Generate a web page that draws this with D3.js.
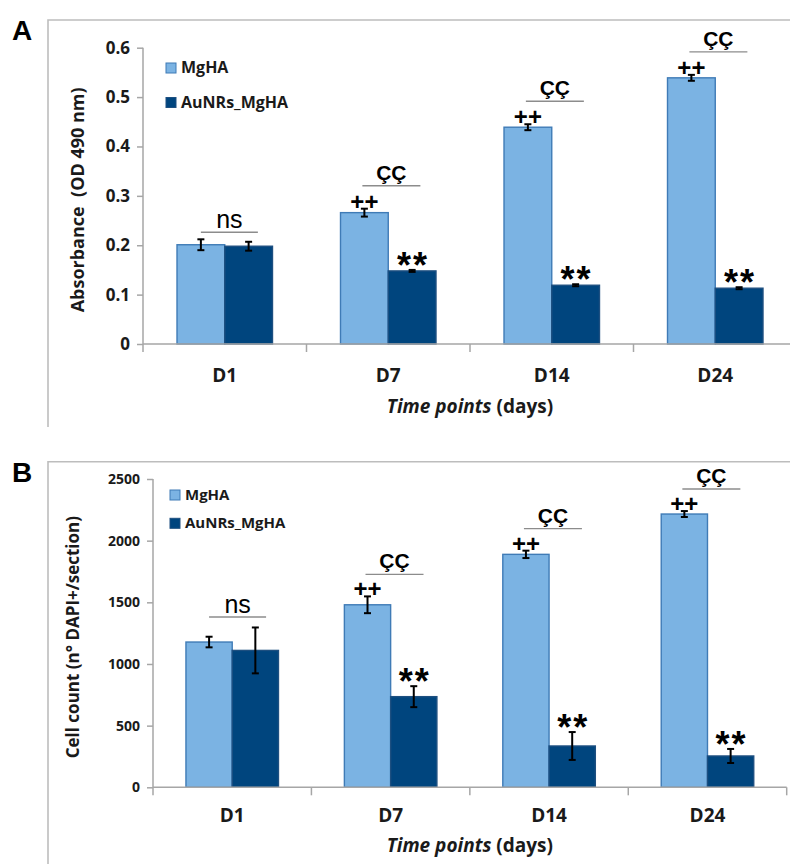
<!DOCTYPE html>
<html>
<head>
<meta charset="utf-8">
<script src="https://cdnjs.cloudflare.com/ajax/libs/d3/7.8.5/d3.min.js"></script>
<style>
  body { margin: 0; background: #fff; }
  svg { display: block; }
  text { font-family: "Open Sans", "Liberation Sans", sans-serif; fill: #1a1a1a; white-space: pre; }
</style>
</head>
<body>
<div id="plot-container"></div>
<script>
// chart values
var categories = ['D1', 'D7', 'D14', 'D24'];
var series = ['MgHA', 'AuNRs_MgHA'];

var absMgHA = [0.201, 0.266, 0.439, 0.539];
var absMgHAErr = [0.011, 0.008, 0.006, 0.006];
var absAu = [0.198, 0.148, 0.119, 0.113];
var absAuErr = [0.009, 0.002, 0.002, 0.002];
var absTicks = [0, 0.1, 0.2, 0.3, 0.4, 0.5, 0.6];
var absTickLabels = ['0', '0.1', '0.2', '0.3', '0.4', '0.5', '0.6'];

var cellMgHA = [1178, 1480, 1889, 2216];
var cellMgHAErr = [43, 68, 30, 24];
var cellAu = [1110, 735, 335, 254];
var cellAuErr = [186, 85, 113, 57];
var cellTicks = [0, 500, 1000, 1500, 2000, 2500];
var cellTickLabels = ['0', '500', '1000', '1500', '2000', '2500'];

// significance marks per time point
var groupMarks = ['ns', 'ÇÇ', 'ÇÇ', 'ÇÇ'];
var plusMarks = ['', '++', '++', '++'];
var starMarks = ['', '**', '**', '**'];

var colors = ['#7bb3e3', '#00457e'];
var strokes = ['#3f7bb6', '#1d4f80'];

var svg = d3.select("#plot-container")
            .append("svg")
            .attr("width", 790)
            .attr("height", 864);

// panel settings (layout only)
var panelA = {
  letter: 'A', letterY: 40, frameTop: 20, frameBottom: 427,
  left: 143, right: 797, top: 47.7, bottom: 344,
  max: 0.6, ticks: absTicks, tickLabels: absTickLabels, tickFont: 17,
  mg: absMgHA, mgErr: absMgHAErr, au: absAu, auErr: absAuErr,
  yTitle: 'Absorbance  (OD 490 nm)', yTitleX: 77, yTitleFont: 18,
  catY: 38, titleY: 69, legendY: 63, legendX: 166, legendFont: 16, legendGap: 34.5,
  lineGap: 23, nsGap: 7
};
var panelB = {
  letter: 'B', letterY: 482, frameTop: 461.7, frameBottom: 900,
  left: 153, right: 786.7, top: 479, bottom: 787.3,
  max: 2500, ticks: cellTicks, tickLabels: cellTickLabels, tickFont: 14,
  mg: cellMgHA, mgErr: cellMgHAErr, au: cellAu, auErr: cellAuErr,
  yTitle: 'Cell count (n° DAPI+/section)', yTitleX: 72, yTitleFont: 17,
  catY: 34.5, titleY: 64.5, legendY: 490, legendX: 170, legendFont: 15, legendGap: 28.3,
  lineGap: 22, nsGap: 10.5
};

drawPanel(panelA);
drawPanel(panelB);

function drawPanel(p) {
  var g = svg.append("g");

  // frame
  g.append("path")
   .attr("d", "M820," + p.frameTop + "H48V" + p.frameBottom)
   .attr("fill", "none")
   .attr("stroke", "#bdbdbd")
   .attr("stroke-width", 1.6);

  g.append("text")
   .attr("x", 12).attr("y", p.letterY)
   .style("font-family", "Liberation Sans, Arial, sans-serif")
   .style("font-weight", "bold").style("font-size", "28px")
   .style("fill", "#000")
   .text(p.letter);

  var x0 = d3.scaleBand().domain(categories).range([p.left, p.right]);
  var bw = x0.bandwidth();
  var x1 = d3.scaleBand().domain(series).range([bw * 0.208, bw * 0.792]);
  var y = d3.scaleLinear().domain([0, p.max]).range([p.bottom, p.top]);

  // y axis
  var yAxis = g.append("g")
               .attr("transform", "translate(" + p.left + ",0)")
               .call(d3.axisLeft(y).tickValues(p.ticks).tickSize(6).tickPadding(7)
                       .tickFormat(function(d, i){ return p.tickLabels[i]; }));
  yAxis.select(".domain").attr("stroke", "#a6a6a6").attr("stroke-width", 1.5)
       .attr("d", "M0," + p.top + "V" + p.bottom);
  yAxis.selectAll(".tick line").attr("stroke", "#a6a6a6").attr("stroke-width", 1.5);
  yAxis.selectAll(".tick text")
       .style("font-size", p.tickFont + "px").style("font-weight", "bold")
       .style("font-family", "Open Sans, sans-serif").attr("fill", "#1a1a1a");

  // bars
  var rows = categories.map(function(c, i){
    return [
      { cat: c, s: series[0], v: p.mg[i], e: p.mgErr[i], k: 0 },
      { cat: c, s: series[1], v: p.au[i], e: p.auErr[i], k: 1 }
    ];
  });
  var flat = [].concat.apply([], rows);

  g.selectAll("rect.bar")
   .data(flat)
   .enter()
   .append("rect")
   .attr("class", "bar")
   .attr("x", function(d){ return x0(d.cat) + x1(d.s); })
   .attr("y", function(d){ return y(d.v); })
   .attr("width", x1.bandwidth())
   .attr("height", function(d){ return y(0) - y(d.v); })
   .attr("fill", function(d){ return colors[d.k]; })
   .attr("stroke", function(d){ return strokes[d.k]; })
   .attr("stroke-width", 1.4);

  // x axis
  var xAxis = g.append("g")
               .attr("transform", "translate(0," + p.bottom + ")")
               .call(d3.axisBottom(x0).tickSize(0));
  xAxis.select(".domain").attr("stroke", "#a6a6a6").attr("stroke-width", 1.5)
       .attr("d", "M" + p.left + ",0H" + p.right);
  xAxis.selectAll(".tick text")
       .attr("y", p.catY).attr("dy", 0)
       .style("font-size", "19px").style("font-weight", "bold")
       .style("font-family", "Open Sans, sans-serif").attr("fill", "#1a1a1a");
  var bounds = categories.map(function(c){ return x0(c); }).concat([x0.range()[1]]);
  xAxis.selectAll("line.bound")
       .data(bounds)
       .enter()
       .append("line")
       .attr("class", "bound")
       .attr("x1", function(d){ return d; }).attr("x2", function(d){ return d; })
       .attr("y1", 0).attr("y2", 8)
       .attr("stroke", "#a6a6a6").attr("stroke-width", 1.5);

  // error bars
  var eb = g.selectAll("g.err")
            .data(flat)
            .enter()
            .append("g")
            .attr("class", "err")
            .attr("stroke", "#000")
            .attr("stroke-width", 2);
  eb.append("line")
    .attr("x1", function(d){ return x0(d.cat) + x1(d.s) + x1.bandwidth() / 2; })
    .attr("x2", function(d){ return x0(d.cat) + x1(d.s) + x1.bandwidth() / 2; })
    .attr("y1", function(d){ return y(d.v + d.e); })
    .attr("y2", function(d){ return y(d.v - d.e); });
  eb.selectAll("line.cap")
    .data(function(d){ return [d.v + d.e, d.v - d.e].map(function(v){ return { d: d, v: v }; }); })
    .enter()
    .append("line")
    .attr("class", "cap")
    .attr("x1", function(o){ return x0(o.d.cat) + x1(o.d.s) + x1.bandwidth() / 2 - 3.5; })
    .attr("x2", function(o){ return x0(o.d.cat) + x1(o.d.s) + x1.bandwidth() / 2 + 3.5; })
    .attr("y1", function(o){ return y(o.v); })
    .attr("y2", function(o){ return y(o.v); });

  // significance marks
  rows.forEach(function(r, i){
    var mg = r[0], au = r[1];
    var cMg = x0(mg.cat) + x1(mg.s) + x1.bandwidth() / 2;
    var cAu = x0(au.cat) + x1(au.s) + x1.bandwidth() / 2;
    var topMg = y(mg.v + mg.e);
    var topAu = y(au.v + au.e);
    var lineY, x1l, x2l;
    if (groupMarks[i] === 'ns') {
      lineY = Math.min(topMg, topAu) - p.nsGap;
      x1l = cMg; x2l = cMg + 57;
      g.append("text")
       .attr("x", (x1l + x2l) / 2).attr("y", lineY - 4)
       .attr("text-anchor", "middle")
       .style("font-family", "Liberation Sans, Arial, sans-serif")
       .style("font-size", "25px").style("fill", "#000")
       .text(groupMarks[i]);
    } else {
      lineY = topMg - p.lineGap;
      x1l = cMg - 2; x2l = cMg + 56;
      g.append("text")
       .attr("x", (x1l + x2l) / 2).attr("y", lineY - 6)
       .attr("text-anchor", "middle")
       .style("font-family", "Liberation Sans, Arial, sans-serif")
       .style("font-size", "21px").style("font-weight", "bold").style("fill", "#000")
       .text(groupMarks[i]);
    }
    g.append("line")
     .attr("x1", x1l).attr("x2", x2l)
     .attr("y1", lineY).attr("y2", lineY)
     .attr("stroke", "#8c8c8c").attr("stroke-width", 1.4);

    if (plusMarks[i]) {
      g.append("text")
       .attr("x", cMg).attr("y", topMg + 1)
       .attr("text-anchor", "middle")
       .style("font-family", "Liberation Sans, Arial, sans-serif")
       .style("font-size", "24px").style("font-weight", "bold").style("fill", "#000")
       .text(plusMarks[i]);
    }
    if (starMarks[i]) {
      g.append("text")
       .attr("x", cAu + 1).attr("y", topAu + 8)
       .attr("text-anchor", "middle")
       .style("font-family", "Liberation Sans, Arial, sans-serif")
       .style("font-size", "36px").style("font-weight", "bold").style("fill", "#000")
       .style("letter-spacing", "2px")
       .text(starMarks[i]);
    }
  });

  // legend
  series.forEach(function(s, i){
    var ly = p.legendY + i * p.legendGap;
    g.append("rect")
     .attr("x", p.legendX).attr("y", ly)
     .attr("width", 10).attr("height", 10)
     .attr("fill", colors[i]).attr("stroke", strokes[i]).attr("stroke-width", 1);
    g.append("text")
     .attr("x", p.legendX + 15).attr("y", ly + 10)
     .style("font-size", p.legendFont + "px").style("font-weight", "bold")
     .text(s);
  });

  // axis titles
  g.append("text")
   .attr("transform", "translate(" + p.yTitleX + "," + ((p.top + p.bottom) / 2 + 4) + ") rotate(-90)")
   .attr("text-anchor", "middle")
   .attr("dominant-baseline", "central")
   .style("font-size", p.yTitleFont + "px").style("font-weight", "bold")
   .text(p.yTitle);

  var t = g.append("text")
           .attr("x", (p.left + p.right) / 2).attr("y", p.bottom + p.titleY)
           .attr("text-anchor", "middle")
           .style("font-size", "19px").style("font-weight", "bold");
  t.append("tspan").style("font-style", "italic").text("Time points");
  t.append("tspan").text(" (days)");
}
</script>
</body>
</html>
